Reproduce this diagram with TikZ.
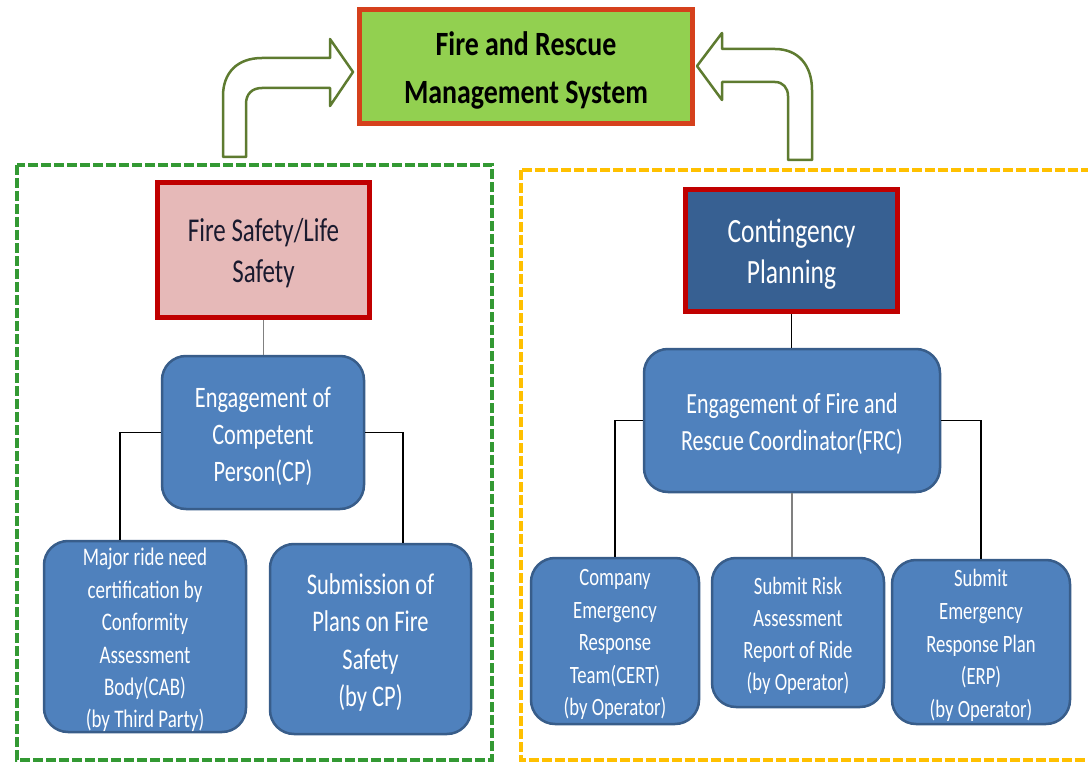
\documentclass[tikz,border=0pt]{standalone}
\usepackage{fontspec}
\setmainfont[FakeStretch=0.75]{Carlito}
\newfontfamily\titlefont[FakeStretch=0.82]{Carlito}
\usetikzlibrary{calc}
\definecolor{titlefill}{HTML}{92D050}
\definecolor{titleborder}{HTML}{D5401C}
\definecolor{pinkfill}{HTML}{E6B9B8}
\definecolor{darkred}{HTML}{C00000}
\definecolor{contfill}{HTML}{376092}
\definecolor{bluefill}{HTML}{4F81BD}
\definecolor{blueborder}{HTML}{385D8A}
\definecolor{dgreen}{HTML}{339933}
\definecolor{dyellow}{HTML}{FFC000}
\definecolor{arrowcol}{HTML}{5E7B30}
\definecolor{darktext}{HTML}{1A1A2E}
\tikzset{
  headbox/.style={draw=darkred, line width=5pt, inner sep=0pt},
  bluebox/.style={draw=blueborder, fill=bluefill, line width=2.5pt, rounded corners=24pt, inner sep=0pt},
  boxtext/.style={inner sep=0pt, align=center, yshift=-3.5pt},
  wtext/.style={boxtext, text=white},
  conn/.style={line width=1.3pt, black},
  gconn/.style={line width=1.3pt, gray},
  blockarrow/.style={draw=arrowcol, fill=white, line width=2.5pt, line join=round},
  groupbox/.style={line width=4pt, dash pattern=on 10pt off 3pt},
}
\begin{document}
\begin{tikzpicture}[x=1pt,y=-1pt]
\clip (0,0) rectangle (1088,765);
\fill[white] (0,0) rectangle (1088,765);
% group boxes
\draw[groupbox, draw=dgreen] (17,165) rectangle (492,760);
\draw[groupbox, draw=dyellow] (521,170) rectangle (1100,760);
% bent block arrows
\draw[blockarrow] (223,157) -- (223,96) .. controls (223,73) and (237,58) .. (262,58) -- (330,58) -- (330,39) -- (353,72) -- (330,106) -- (330,88) -- (262,88) .. controls (252,88) and (246,94) .. (246,104) -- (246,157) -- cycle;
\draw[blockarrow] (812,160) -- (812,90) .. controls (812,65) and (798,49) .. (775,49) -- (722,49) -- (722,33) -- (697,66) -- (722,100) -- (722,82) -- (775,82) .. controls (783,82) and (788,88) .. (788,96) -- (788,160) -- cycle;
% title
\node[draw=titleborder, fill=titlefill, line width=5pt, minimum width=333pt, minimum height=114pt, inner sep=0pt] (title) at (526,66.5) {};
\node[boxtext, font=\titlefont\fontsize{34}{48}\selectfont\bfseries] (title-t) at (title.center) {Fire and Rescue\\Management System};
% heads
\node[headbox, fill=pinkfill, minimum width=212pt, minimum height=135pt] (fire) at (263.5,250) {};
\node[boxtext, text=darktext, font=\fontsize{33.3}{41}\selectfont] (fire-t) at (fire.center) {Fire Safety/Life\\Safety};
\node[headbox, fill=contfill, minimum width=212pt, minimum height=122pt] (cont) at (791.5,250.5) {};
\node[wtext, font=\fontsize{34}{41}\selectfont] (cont-t) at (cont.center) {Contingency\\Planning};
% blue boxes
\node[bluebox, minimum width=202pt, minimum height=153pt] (cp) at (263,432.5) {};
\node[wtext, font=\fontsize{29.7}{37}\selectfont] (cp-t) at (cp.center) {Engagement of\\Competent\\Person(CP)};
\node[bluebox, minimum width=202pt, minimum height=191pt] (cab) at (145,636.5) {};
\node[wtext, font=\fontsize{25.3}{32.5}\selectfont] (cab-t) at (cab.center) {Major ride need\\certification by\\Conformity\\Assessment\\Body(CAB)\\(by Third Party)};
\node[bluebox, minimum width=201pt, minimum height=190pt] (plans) at (370.5,639) {};
\node[wtext, font=\fontsize{30}{37.5}\selectfont] (plans-t) at (plans.center) {Submission of\\Plans on Fire\\Safety\\(by CP)};
\node[bluebox, minimum width=296pt, minimum height=143pt] (frc) at (792,420.5) {};
\node[wtext, font=\fontsize{29.3}{37}\selectfont] (frc-t) at (frc.center) {Engagement of Fire and\\Rescue Coordinator(FRC)};
\node[bluebox, minimum width=168pt, minimum height=166pt] (cert) at (615,641) {};
\node[wtext, font=\fontsize{24.9}{32.5}\selectfont] (cert-t) at (cert.center) {Company\\Emergency\\Response\\Team(CERT)\\(by Operator)};
\node[bluebox, minimum width=172pt, minimum height=149pt] (risk) at (798,632.5) {};
\node[wtext, font=\fontsize{24.9}{32}\selectfont] (risk-t) at (risk.center) {Submit Risk\\Assessment\\Report of Ride\\(by Operator)};
\node[bluebox, minimum width=178pt, minimum height=164pt] (erp) at (981,642) {};
\node[wtext, font=\fontsize{24.9}{32.7}\selectfont] (erp-t) at (erp.center) {Submit\\Emergency\\Response Plan\\(ERP)\\(by Operator)};
% connectors
\draw[gconn] (fire.south) -- (fire.south |- cp.north);
\draw[conn] (cp.west) -| ([xshift=-25pt]cab.north);
\draw[conn] (cp.east) -| ([xshift=32.5pt]plans.north);
\draw[conn] (cont.south) -- (cont.south |- frc.north);
\draw[conn] (frc.west) -| (cert.north);
\draw[gconn] (frc.south) -- (frc.south |- risk.north);
\draw[conn] (frc.east) -| (erp.north);
\end{tikzpicture}
\end{document}
